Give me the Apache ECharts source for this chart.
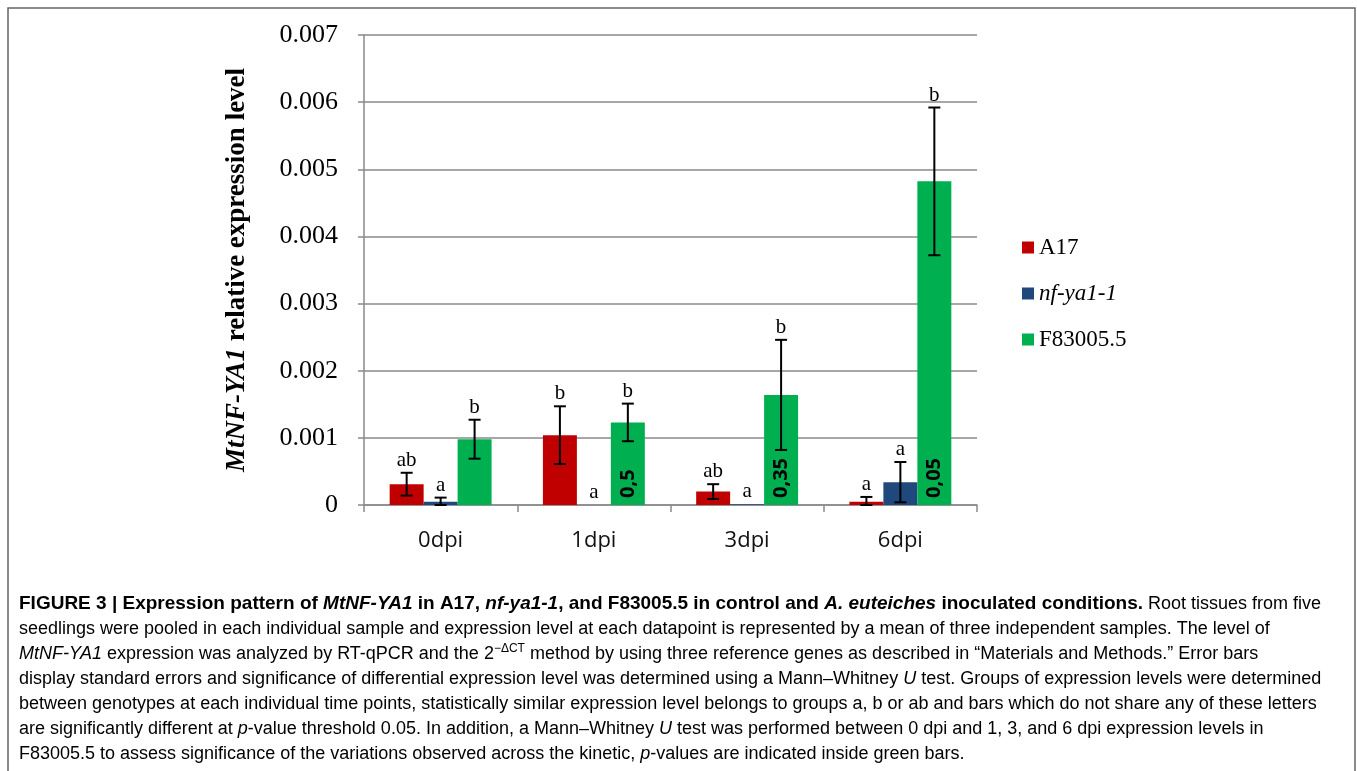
<!DOCTYPE html>
<html>
<head>
<meta charset="utf-8">
<script src="https://cdn.jsdelivr.net/npm/echarts@6/dist/echarts.min.js"></script>
<style>
html,body{margin:0;padding:0;background:#fff;}
#chart{width:1357px;height:771px;}
</style>
</head>
<body>
<div id="chart"></div>
<script>
// ---- data ----
var categories = ['0dpi', '1dpi', '3dpi', '6dpi'];
var seriesNames = ['A17', 'nf-ya1-1', 'F83005.5'];
var a17Values = [0.00031, 0.00104, 0.00020, 0.00005];
var a17Errors = [0.00017, 0.00043, 0.00011, 0.00007];
var a17Letters = ['ab', 'b', 'ab', 'a'];
var nfValues = [0.00005, 0.0, 0.00001, 0.00034];
var nfErrors = [0.00006, 0.0, 0.0, 0.00030];
var nfLetters = ['a', 'a', 'a', 'a'];
var f83Values = [0.00098, 0.00123, 0.00164, 0.00482];
var f83Errors = [0.00029, 0.00028, 0.00082, 0.00110];
var f83Letters = ['b', 'b', 'b', 'b'];
var pLabels = ['', '0,5', '0,35', '0,05'];

var colors = ['#C00000', '#1F497D', '#00B050'];
var CAT_GAP = 0.335;

var chart = echarts.init(document.getElementById('chart'));

function errSeries(idx, vals, errs, letters) {
  return {
    type: 'custom',
    name: seriesNames[idx] + '_err',
    z: 10,
    silent: true,
    data: vals.map(function (v, i) { return [i, v, errs[i]]; }),
    renderItem: function (params, api) {
      var ci = api.value(0), v = api.value(1), e = api.value(2);
      var band = api.size([1, 0])[0];
      var barW = band * (1 - CAT_GAP) / 3;
      var base = api.coord([ci, v]);
      var cx = base[0] + (idx - 1) * barW;
      var topY = api.coord([ci, v + e])[1];
      var botY = api.coord([ci, Math.max(v - e, 0)])[1];
      var cap = 6;
      var style = { stroke: '#000', lineWidth: 2 };
      var children = [];
      if (e > 0) {
        children.push({ type: 'line', shape: { x1: cx, y1: topY, x2: cx, y2: botY }, style: style });
        children.push({ type: 'line', shape: { x1: cx - cap, y1: topY, x2: cx + cap, y2: topY }, style: style });
        children.push({ type: 'line', shape: { x1: cx - cap, y1: botY, x2: cx + cap, y2: botY }, style: style });
      }
      children.push({
        type: 'text',
        style: {
          text: letters[params.dataIndex], x: cx, y: topY - 2,
          align: 'center', verticalAlign: 'bottom',
          font: '21px "Liberation Serif"', fill: '#000'
        }
      });
      return { type: 'group', children: children };
    }
  };
}

function barSeries(idx, vals) {
  return {
    type: 'bar',
    name: seriesNames[idx],
    itemStyle: { color: colors[idx] },
    barGap: '0%',
    barCategoryGap: (CAT_GAP * 100) + '%',
    data: vals.map(function (v, i) {
      var d = { value: v };
      if (idx === 2 && pLabels[i]) {
        d.label = {
          show: true, formatter: pLabels[i], position: 'insideBottom',
          rotate: 90, align: 'left', verticalAlign: 'middle', distance: 7,
          fontFamily: 'Open Sans', fontWeight: 'bold', fontSize: 20, color: '#000'
        };
      }
      return d;
    })
  };
}

var capLines = [
  '{b|FIGURE 3 | Expression pattern of }{bi|MtNF-YA1}{b| in A17, }{bi|nf-ya1-1}{b|, and F83005.5 in control and }{bi|A. euteiches}{b| inoculated conditions.}{n| Root tissues from five}',
  '{n|seedlings were pooled in each individual sample and expression level at each datapoint is represented by a mean of three independent samples. The level of}',
  '{i|MtNF-YA1}{n| expression was analyzed by RT-qPCR and the 2}{sup|\u2212\u0394CT}{n| method by using three reference genes as described in \u201cMaterials and Methods.\u201d Error bars}',
  '{n|display standard errors and significance of differential expression level was determined using a Mann\u2013Whitney }{i|U}{n| test. Groups of expression levels were determined}',
  '{n|between genotypes at each individual time points, statistically similar expression level belongs to groups a, b or ab and bars which do not share any of these letters}',
  '{n|are significantly different at }{i|p}{n|-value threshold 0.05. In addition, a Mann\u2013Whitney }{i|U}{n| test was performed between 0 dpi and 1, 3, and 6 dpi expression levels in}',
  '{n|F83005.5 to assess significance of the variations observed across the kinetic, }{i|p}{n|-values are indicated inside green bars.}'
];
var capFont = 'Liberation Sans';
var capSize = 18;
var capRich = {
  n: { fontFamily: capFont, fontSize: capSize, color: '#3a3a3a', lineHeight: 22 },
  i: { fontFamily: capFont, fontSize: capSize, fontStyle: 'italic', color: '#3a3a3a', lineHeight: 22 },
  b: { fontFamily: capFont, fontSize: 19, fontWeight: 'bold', color: '#1a1a1a', lineHeight: 22 },
  bi: { fontFamily: capFont, fontSize: 19, fontWeight: 'bold', fontStyle: 'italic', color: '#1a1a1a', lineHeight: 22 },
  sup: { fontFamily: capFont, fontSize: 12, color: '#3a3a3a', lineHeight: 22, verticalAlign: 'top', padding: [0, 0, 9, 0] }
};
var graphics = [{
  type: 'rect', shape: { x: 8, y: 8, width: 1347, height: 800 },
  style: { fill: 'none', stroke: '#666', lineWidth: 1.5 }, silent: true
}];
capLines.forEach(function (t, k) {
  graphics.push({
    type: 'text', x: 19, y: 604 + k * 25,
    style: { text: t, rich: capRich, verticalAlign: 'middle', align: 'left' }
  });
});

var option = {
  animation: false,
  backgroundColor: '#fff',
  graphic: graphics,
  grid: { left: 364, right: 380, top: 35, bottom: 266 },
  legend: {
    orient: 'vertical', left: 1017, top: 231, itemGap: 23,
    itemWidth: 12, itemHeight: 12, icon: 'rect',
    data: seriesNames,
    formatter: function (name) { return name === 'nf-ya1-1' ? '{i|' + name + '}' : '{n|' + name + '}'; },
    textStyle: {
      fontFamily: 'Liberation Serif', fontSize: 23, color: '#000', lineHeight: 23,
      rich: {
        n: { fontFamily: 'Liberation Serif', fontSize: 23, color: '#000' },
        i: { fontFamily: 'Liberation Serif', fontSize: 23, fontStyle: 'italic', color: '#000' }
      }
    }
  },
  xAxis: {
    type: 'category', data: categories,
    axisLine: { lineStyle: { color: '#8a8a8a', width: 1.5 } },
    axisTick: { show: true, length: 7, lineStyle: { color: '#8a8a8a', width: 1.5 } },
    axisLabel: { fontFamily: 'Open Sans', fontSize: 22, color: '#111', margin: 25 }
  },
  yAxis: {
    type: 'value', min: 0, max: 0.007, interval: 0.001,
    name: '{bi|MtNF-YA1}{b| relative expression level}',
    nameLocation: 'middle', nameRotate: 90, nameGap: 113,
    nameTextStyle: {
      rich: {
        b: { fontFamily: 'Liberation Serif', fontWeight: 'bold', fontSize: 27, color: '#000' },
        bi: { fontFamily: 'Liberation Serif', fontWeight: 'bold', fontStyle: 'italic', fontSize: 27, color: '#000' }
      }
    },
    axisLine: { show: true, lineStyle: { color: '#8a8a8a', width: 1.5 } },
    axisTick: { show: true, length: 6, lineStyle: { color: '#8a8a8a', width: 1.5 } },
    axisLabel: {
      fontFamily: 'Liberation Serif', fontSize: 26, color: '#000', margin: 26,
      formatter: function (v) { return v === 0 ? '0' : v.toFixed(3); }
    },
    splitLine: { lineStyle: { color: '#8a8a8a', width: 1.5 } }
  },
  series: [
    barSeries(0, a17Values), barSeries(1, nfValues), barSeries(2, f83Values),
    errSeries(0, a17Values, a17Errors, a17Letters),
    errSeries(1, nfValues, nfErrors, nfLetters),
    errSeries(2, f83Values, f83Errors, f83Letters)
  ]
};
chart.setOption(option);
</script>
</body>
</html>
